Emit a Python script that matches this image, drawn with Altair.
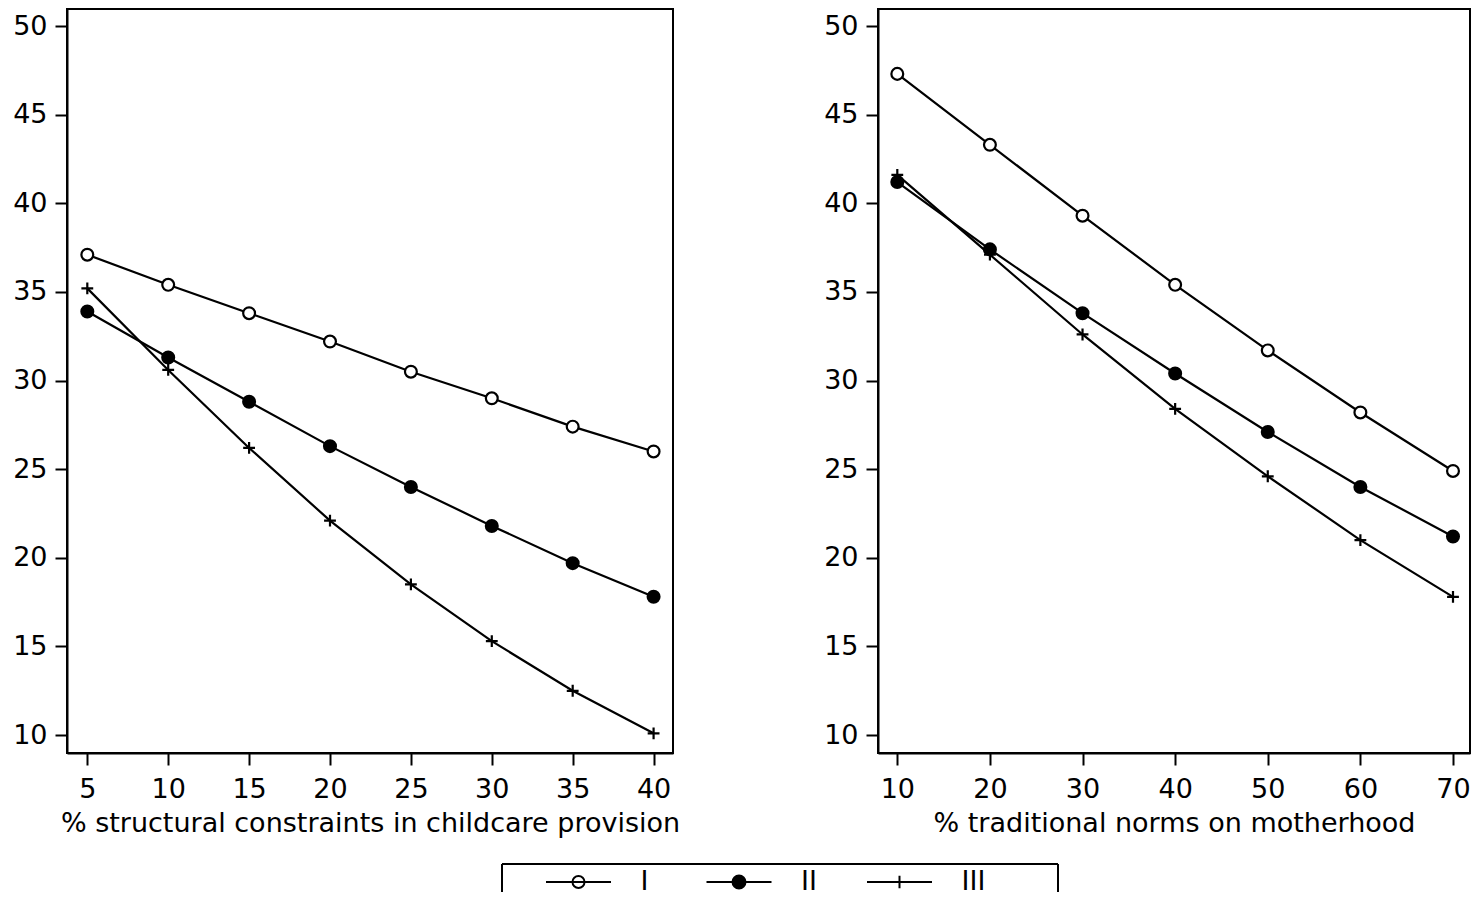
import altair as alt
import pandas as pd

FONT = "DejaVu Sans"

series = ["I", "II", "III"]

x_left = [5, 10, 15, 20, 25, 30, 35, 40]
left_I = [37.1, 35.4, 33.8, 32.2, 30.5, 29.0, 27.4, 26.0]
left_II = [33.9, 31.3, 28.8, 26.3, 24.0, 21.8, 19.7, 17.8]
left_III = [35.2, 30.6, 26.2, 22.1, 18.5, 15.3, 12.5, 10.1]

x_right = [10, 20, 30, 40, 50, 60, 70]
right_I = [47.3, 43.3, 39.3, 35.4, 31.7, 28.2, 24.9]
right_II = [41.2, 37.4, 33.8, 30.4, 27.1, 24.0, 21.2]
right_III = [41.6, 37.1, 32.6, 28.4, 24.6, 21.0, 17.8]

y_ticks = [10, 15, 20, 25, 30, 35, 40, 45, 50]
x_left_ticks = [5, 10, 15, 20, 25, 30, 35, 40]
x_right_ticks = [10, 20, 30, 40, 50, 60, 70]

left_title = "% structural constraints in childcare provision"
right_title = "% traditional norms on motherhood"


def make_df(xs, ys_list):
    rows = []
    for name, ys in zip(series, ys_list):
        for xv, yv in zip(xs, ys):
            rows.append({"series": name, "x": xv, "y": yv})
    return pd.DataFrame(rows)


df_left = make_df(x_left, [left_I, left_II, left_III])
df_right = make_df(x_right, [right_I, right_II, right_III])

plot_shapes = ["circle", "circle", "M-1,0H1M0,-1V1"]
fills = ["white", "black", "transparent"]
sizes = [140, 140, 190]


def panel(df, xdom, xvals, xtitle, w):
    base = alt.Chart(df)
    x = alt.X("x:Q", scale=alt.Scale(domain=xdom, nice=False, zero=False),
              axis=alt.Axis(values=xvals, title=xtitle, format="d"))
    y = alt.Y("y:Q", scale=alt.Scale(domain=[8.99, 50.96], nice=False, zero=False),
              axis=alt.Axis(values=y_ticks, title=None, format="d"))
    lines = base.mark_line(color="black", strokeWidth=2.2).encode(
        x=x, y=y, detail="series:N")
    pts = base.mark_point(stroke="black", strokeWidth=2.2, opacity=1).encode(
        x=x, y=y,
        shape=alt.Shape("series:N", scale=alt.Scale(domain=series, range=plot_shapes), legend=None),
        fill=alt.Fill("series:N", scale=alt.Scale(domain=series, range=fills), legend=None),
        size=alt.Size("series:O", scale=alt.Scale(domain=series, range=sizes), legend=None),
    )
    return alt.layer(lines, pts).properties(width=w, height=744)


left = panel(df_left, [3.745, 41.2], x_left_ticks, left_title, 606)
right = panel(df_right, [7.916, 71.836], x_right_ticks, right_title, 592)

# ---- legend row (below the panels) ----
LEG_W = 991
LEG_H = 28
BOX_X0 = 435
r = 0.185
rf = 0.2
legend_shapes = [
    f"M-1,0H1M{r},0A{r},{r} 0 1 1 -{r},0A{r},{r} 0 1 1 {r},0Z",
    f"M-1,0H1M{rf},0A{rf},{rf} 0 1 1 -{rf},0A{rf},{rf} 0 1 1 {rf},0Z",
    "M-1,0H1M0,-0.19V0.19",
]
leg_df = pd.DataFrame({"series": series})
one = pd.DataFrame({"k": [0]})
lx = alt.X("series:N", scale=alt.Scale(domain=series, type="point", padding=0, range=[511.5, 832.5]), axis=None)
sym = alt.Chart(leg_df).mark_point(stroke="black", strokeWidth=2, opacity=1, size=4225, yOffset=4).encode(
    x=lx,
    shape=alt.Shape("series:N", scale=alt.Scale(domain=series, range=legend_shapes), legend=None),
    fill=alt.Fill("series:N", scale=alt.Scale(domain=series, range=fills), legend=None),
)
txt = alt.Chart(leg_df).mark_text(align="left", baseline="middle", dx=62, dy=4, fontSize=27, font=FONT, color="black").encode(
    x=lx, text="series:N")
box_top = alt.Chart(one).mark_rule(color="black", strokeWidth=2).encode(
    x=alt.value(BOX_X0), x2=alt.value(LEG_W), y=alt.value(0))
box_left = alt.Chart(one).mark_rule(color="black", strokeWidth=2).encode(
    x=alt.value(BOX_X0), y=alt.value(0), y2=alt.value(LEG_H))
box_right = alt.Chart(one).mark_rule(color="black", strokeWidth=2).encode(
    x=alt.value(LEG_W), y=alt.value(0), y2=alt.value(LEG_H))
legend_view = alt.layer(box_top, box_left, box_right, sym, txt).resolve_scale(
    shape="independent", fill="independent").properties(
    width=LEG_W, height=LEG_H, view=alt.ViewBackground(stroke="transparent", strokeWidth=0))

top = alt.hconcat(left, right, spacing=141)
chart = alt.vconcat(top, legend_view, spacing=26).resolve_scale(
    shape="independent", fill="independent", size="independent", x="independent", y="independent"
).properties(
    padding={"left": 3, "top": 0, "right": 0, "bottom": 0}
).configure(font=FONT).configure_view(
    stroke="black", strokeWidth=2
).configure_axis(
    domainColor="black", domainWidth=2, tickColor="black", tickWidth=2, tickSize=12,
    labelFont=FONT, labelFontSize=27, labelColor="black",
    titleFont=FONT, titleFontSize=27, titleFontWeight="normal", titleColor="black",
    titlePadding=8, grid=False
).configure_axisX(labelPadding=11).configure_axisY(labelPadding=8)

chart.save("out.html", embed_options={"renderer": "svg", "actions": False})
